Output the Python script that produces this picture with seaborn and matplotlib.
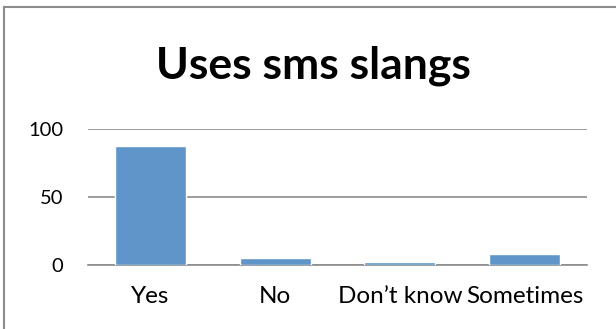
import matplotlib
matplotlib.use("Agg")
import matplotlib.pyplot as plt
import seaborn as sns
import pandas as pd
from matplotlib.patches import Rectangle

categories = ["Yes", "No", "Don\u2019t know", "Sometimes"]
values = [88, 5, 2, 8]
y_ticks = [0, 50, 100]

sns.set_theme(style="white")
plt.rcParams["font.family"] = ["Lato", "DejaVu Sans"]

df = pd.DataFrame({"answer": categories, "count": values})

fig = plt.figure(figsize=(6.16, 3.29), dpi=100)
ax = fig.add_axes([88 / 616, 1 - 265 / 329, (587 - 88) / 616, (265 - 129.3) / 329])

sns.barplot(data=df, x="answer", y="count", color="#5F95C9", saturation=1,
            width=0.57, ax=ax, zorder=3)

ax.set_ylim(0, 100)
ax.set_xlim(-0.5, len(categories) - 0.5)
ax.set_yticks(y_ticks)
ax.yaxis.grid(True, color="#8c8c8c", linewidth=1.2, zorder=0)
ax.set_axisbelow(True)
for side in ["left", "right", "top"]:
    ax.spines[side].set_visible(False)
ax.spines["bottom"].set_color("#8c8c8c")
ax.spines["bottom"].set_linewidth(1.2)
ax.tick_params(axis="both", length=0, colors="black")
ax.tick_params(axis="y", labelsize=14.5, pad=18)
ax.tick_params(axis="x", labelsize=17.5, pad=15)
ax.set_xlabel("")
ax.set_ylabel("")

fig.text(313 / 616, 1 - 66 / 329, "Uses sms slangs", ha="center", va="center",
         fontsize=32, fontweight="bold", color="black")

# chart frame
fig.patches.append(Rectangle((4 / 616, -0.1), 1.1, 1 - 7.5 / 329 + 0.1,
                             transform=fig.transFigure, fill=False,
                             edgecolor="#8c8c8c", linewidth=1.5))

fig.savefig("out.png", dpi=100)
